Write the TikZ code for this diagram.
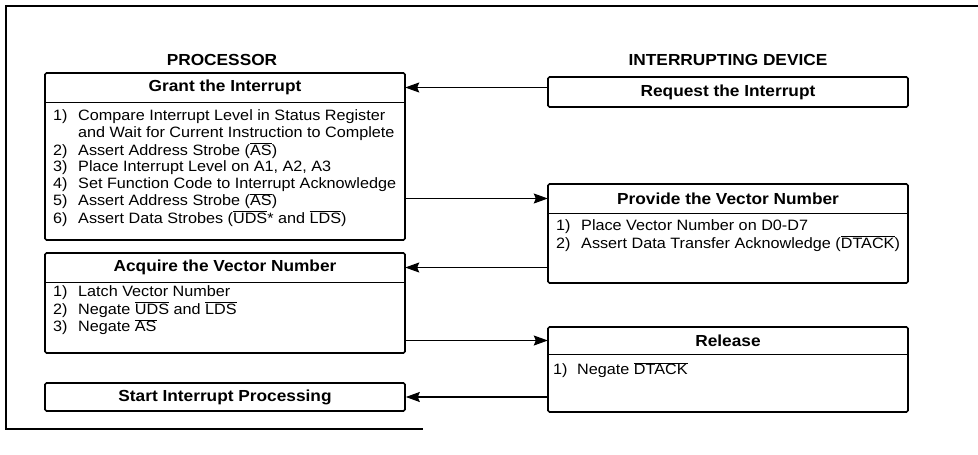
\documentclass[tikz,border=0pt]{standalone}
\usepackage{fontspec}
\setmainfont{Liberation Sans}[FakeStretch=1.08]
\usetikzlibrary{arrows.meta}
\newcommand\ovl[1]{$\overline{\hbox{#1}}$}
\newcommand\bodyfnt{\fontsize{15}{16.7}\selectfont}
\tikzset{
  boxnode/.style={draw, line width=1.6pt, rounded corners=1.5pt, inner sep=0pt},
  hdrnode/.style={inner sep=0pt, font=\fontsize{16}{18}\selectfont\bfseries},
  titlenode/.style={inner sep=0pt, font=\fontsize{16}{18}\selectfont\bfseries},
  bodynode/.style={anchor=north west, inner sep=0pt, font=\bodyfnt},
  sepline/.style={line width=1.3pt},
  conn/.style={line width=1.3pt, -{Stealth[length=14pt,width=10pt,inset=2pt]}},
  framel/.style={line width=1.2pt}
}
\begin{document}
\begin{tikzpicture}[x=1pt,y=-1pt]
\useasboundingbox (0,0) rectangle (978,455);
% outer frame
\coordinate (ftr) at (978,6);
\coordinate (ftl) at (6,6);
\coordinate (fbl) at (6,429);
\coordinate (fbr) at (423,429);
\draw[framel] (ftr) -- (ftl) -- (fbl) -- (fbr);

% titles
\node[titlenode] (tproc) at (222,60) {PROCESSOR};
\node[titlenode] (tdev) at (728,60) {INTERRUPTING DEVICE};

% Grant the Interrupt
\node[boxnode, minimum width=360pt, minimum height=167pt] (grant) at (225,156.5) {};
\node[hdrnode, minimum width=360pt, minimum height=29pt] (granth) at (225,87.5) {Grant the Interrupt};
\draw[sepline] (granth.south west) -- (granth.south east);
\node[bodynode] (grantt) at (53,109) {\begin{tabular}{@{}p{25pt}@{}l@{}}
1) & Compare Interrupt Level in Status Register\\
   & and Wait for Current Instruction to Complete\\
2) & Assert Address Strobe (\ovl{AS})\\
3) & Place Interrupt Level on A1, A2, A3\\
4) & Set Function Code to Interrupt Acknowledge\\
5) & Assert Address Strobe (\ovl{AS})\\
6) & Assert Data Strobes (\ovl{UDS}* and \ovl{LDS})
\end{tabular}};

% Request the Interrupt
\node[boxnode, minimum width=360pt, minimum height=30pt, font=\fontsize{16}{18}\selectfont\bfseries] (req) at (728,92) {Request the Interrupt};

% Provide the Vector Number
\node[boxnode, minimum width=360pt, minimum height=99pt] (prov) at (728,233.5) {};
\node[hdrnode, minimum width=360pt, minimum height=29pt] (provh) at (728,198.5) {Provide the Vector Number};
\draw[sepline] (provh.south west) -- (provh.south east);
\node[bodynode] (provt) at (556,219) {\begin{tabular}{@{}p{25pt}@{}l@{}}
1) & Place Vector Number on D0-D7\\
2) & Assert Data Transfer Acknowledge (\ovl{DTACK})
\end{tabular}};

% Acquire the Vector Number
\node[boxnode, minimum width=360pt, minimum height=100pt] (acq) at (225,303) {};
\node[hdrnode, minimum width=360pt, minimum height=29pt] (acqh) at (225,267.5) {Acquire the Vector Number};
\draw[sepline] (acqh.south west) -- (acqh.south east);
\node[bodynode] (acqt) at (53,285) {\begin{tabular}{@{}p{25pt}@{}l@{}}
1) & Latch Vector Number\\
2) & Negate \ovl{UDS} and \ovl{LDS}\\
3) & Negate \ovl{AS}
\end{tabular}};

% Release
\node[boxnode, minimum width=360pt, minimum height=85pt] (rel) at (728,369.5) {};
\node[hdrnode, minimum width=360pt, minimum height=27pt] (relh) at (728,340.5) {Release};
\draw[sepline] (relh.south west) -- (relh.south east);
\node[bodynode] (relt) at (553,362) {\begin{tabular}{@{}p{24pt}@{}l@{}}
1) & Negate \ovl{DTACK}
\end{tabular}};

% Start Interrupt Processing
\node[boxnode, minimum width=360pt, minimum height=28pt, font=\fontsize{16}{18}\selectfont\bfseries] (start) at (225,397) {Start Interrupt Processing};

% connectors
\draw[conn] (granth.east -| req.west) -- (granth.east);
\draw[conn] (provh.west -| grant.east) -- (provh.west);
\draw[conn] (acqh.east -| prov.west) -- (acqh.east);
\draw[conn] (relh.west -| acq.east) -- (relh.west);
\draw[conn] (start.east -| rel.west) -- (start.east);
\end{tikzpicture}
\end{document}
